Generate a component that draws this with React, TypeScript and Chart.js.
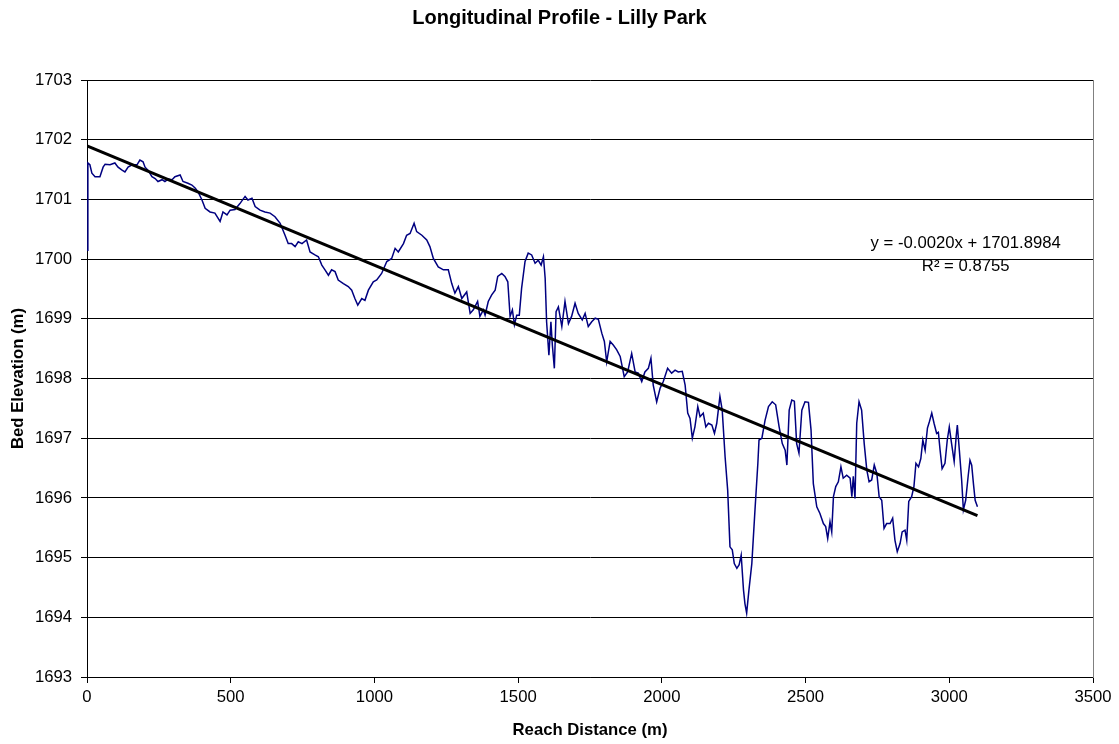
import React, { useEffect, useRef } from "react";
import { Chart, registerables } from "chart.js";

Chart.register(...registerables);

const FONT = '"Liberation Sans", Arial, Helvetica, sans-serif';

const chartTitle = "Longitudinal Profile - Lilly Park";
const xAxisTitle = "Reach Distance (m)";
const yAxisTitle = "Bed Elevation (m)";
const equationLines = ["y = -0.0020x + 1701.8984", "R\u00B2 = 0.8755"];

// Reach distance (m) of each surveyed bed point
const distance = [
  0, 3, 10, 17, 28, 45, 56, 63, 80, 97,
  108, 122, 132, 143, 157, 174, 184, 195, 202, 212,
  226, 237, 247, 261, 271, 282, 296, 306, 324, 334,
  351, 365, 376, 386, 400, 411, 428, 445, 463, 473,
  487, 498, 515, 532, 550, 560, 574, 585, 602, 619,
  637, 654, 672, 689, 700, 712, 724, 735, 748, 764,
  776, 793, 805, 817, 828, 840, 851, 863, 874, 892,
  909, 921, 932, 942, 956, 967, 979, 996, 1008, 1025,
  1043, 1060, 1072, 1083, 1101, 1112, 1124, 1138, 1147, 1165,
  1182, 1193, 1205, 1222, 1240, 1257, 1269, 1280, 1292, 1304,
  1321, 1333, 1344, 1359, 1367, 1379, 1385, 1396, 1408, 1420,
  1429, 1443, 1454, 1464, 1472, 1480, 1487, 1495, 1504, 1512,
  1524, 1535, 1547, 1559, 1570, 1580, 1588, 1594, 1599, 1607,
  1614, 1619, 1626, 1632, 1640, 1652, 1663, 1675, 1686, 1698,
  1709, 1723, 1733, 1744, 1756, 1768, 1779, 1791, 1800, 1808,
  1820, 1831, 1843, 1855, 1869, 1881, 1895, 1907, 1918, 1930,
  1941, 1953, 1962, 1970, 1982, 1994, 2005, 2020, 2034, 2046,
  2057, 2071, 2081, 2090, 2098, 2106, 2115, 2125, 2133, 2144,
  2153, 2162, 2174, 2183, 2191, 2202, 2210, 2220, 2229, 2237,
  2245, 2252, 2261, 2269, 2276, 2284, 2289, 2295, 2303, 2313,
  2324, 2334, 2338, 2348, 2359, 2371, 2384, 2396, 2408, 2419,
  2429, 2435, 2443, 2452, 2461, 2469, 2477, 2487, 2498, 2510,
  2519, 2527, 2539, 2550, 2562, 2570, 2577, 2585, 2591, 2597,
  2605, 2614, 2623, 2631, 2643, 2655, 2661, 2666, 2672, 2678,
  2686, 2695, 2704, 2713, 2721, 2730, 2739, 2748, 2756, 2765,
  2773, 2782, 2794, 2803, 2811, 2819, 2829, 2836, 2846, 2852,
  2859, 2869, 2877, 2884, 2893, 2901, 2908, 2916, 2924, 2931,
  2939, 2947, 2956, 2962, 2968, 2975, 2985, 2993, 3000, 3008,
  3017, 3024, 3028, 3035, 3043, 3049, 3057, 3066, 3072, 3078,
  3084, 3090, 3098,
];

// Bed elevation (m) at each distance
const elevation = [
  1700.15, 1701.61, 1701.58, 1701.44, 1701.38, 1701.38, 1701.54, 1701.59, 1701.58, 1701.61,
  1701.54, 1701.49, 1701.46, 1701.54, 1701.58, 1701.58, 1701.66, 1701.63, 1701.54, 1701.49,
  1701.38, 1701.35, 1701.30, 1701.33, 1701.30, 1701.34, 1701.33, 1701.38, 1701.41, 1701.30,
  1701.27, 1701.24, 1701.19, 1701.13, 1700.99, 1700.85, 1700.79, 1700.77, 1700.63, 1700.79,
  1700.74, 1700.82, 1700.83, 1700.93, 1701.05, 1700.99, 1701.02, 1700.88, 1700.82, 1700.79,
  1700.77, 1700.71, 1700.60, 1700.40, 1700.26, 1700.26, 1700.21, 1700.29, 1700.26, 1700.32,
  1700.12, 1700.07, 1700.04, 1699.90, 1699.82, 1699.73, 1699.82, 1699.79, 1699.65, 1699.59,
  1699.54, 1699.48, 1699.34, 1699.23, 1699.34, 1699.31, 1699.48, 1699.62, 1699.65, 1699.76,
  1699.96, 1700.01, 1700.18, 1700.12, 1700.26, 1700.40, 1700.43, 1700.60, 1700.46, 1700.40,
  1700.32, 1700.21, 1700.01, 1699.87, 1699.82, 1699.82, 1699.59, 1699.43, 1699.54, 1699.34,
  1699.45, 1699.09, 1699.15, 1699.29, 1699.04, 1699.15, 1699.06, 1699.29, 1699.40, 1699.48,
  1699.71, 1699.76, 1699.71, 1699.62, 1699.04, 1699.15, 1698.90, 1699.06, 1699.06, 1699.51,
  1699.96, 1700.10, 1700.07, 1699.93, 1699.98, 1699.90, 1700.04, 1699.68, 1698.95, 1698.39,
  1698.95, 1698.56, 1698.17, 1699.12, 1699.20, 1698.87, 1699.29, 1698.92, 1699.04, 1699.26,
  1699.09, 1698.98, 1699.09, 1698.87, 1698.95, 1699.01, 1698.99, 1698.76, 1698.62, 1698.28,
  1698.62, 1698.56, 1698.48, 1698.37, 1698.03, 1698.11, 1698.42, 1698.11, 1698.09, 1697.95,
  1698.11, 1698.17, 1698.34, 1697.89, 1697.61, 1697.84, 1697.95, 1698.17, 1698.09, 1698.14,
  1698.11, 1698.12, 1697.89, 1697.42, 1697.33, 1697.00, 1697.19, 1697.53, 1697.36, 1697.42,
  1697.19, 1697.25, 1697.22, 1697.08, 1697.25, 1697.70, 1697.47, 1696.69, 1696.13, 1695.18,
  1695.13, 1694.90, 1694.82, 1694.88, 1695.04, 1694.46, 1694.23, 1694.07, 1694.46, 1694.90,
  1695.80, 1696.58, 1696.97, 1697.00, 1697.30, 1697.53, 1697.61, 1697.56, 1697.19, 1696.91,
  1696.80, 1696.55, 1697.47, 1697.64, 1697.62, 1696.91, 1696.75, 1697.47, 1697.61, 1697.60,
  1697.14, 1696.24, 1695.85, 1695.74, 1695.57, 1695.52, 1695.32, 1695.60, 1695.43, 1696.02,
  1696.19, 1696.27, 1696.52, 1696.33, 1696.38, 1696.33, 1696.02, 1696.36, 1695.99, 1697.25,
  1697.61, 1697.47, 1696.91, 1696.47, 1696.27, 1696.30, 1696.55, 1696.41, 1696.02, 1695.96,
  1695.49, 1695.57, 1695.57, 1695.66, 1695.29, 1695.10, 1695.24, 1695.43, 1695.46, 1695.29,
  1695.94, 1696.02, 1696.19, 1696.58, 1696.52, 1696.66, 1696.97, 1696.80, 1697.17, 1697.28,
  1697.42, 1697.25, 1697.08, 1697.10, 1696.80, 1696.49, 1696.58, 1696.97, 1697.19, 1696.91,
  1696.61, 1697.03, 1697.22, 1696.80, 1696.30, 1695.80, 1695.96, 1696.38, 1696.63, 1696.55,
  1696.24, 1695.96, 1695.85,
];

// Linear trend line end points
const trendDistance = [0, 3098];
const trendElevation = [1701.8984, 1695.7024];

// Axis ranges / ticks
const xRange = [0, 3500];
const xStep = 500;
const yRange = [1693, 1703];
const yStep = 1;

// Where the trend equation label is anchored (data units)
const equationAnchorX = 3057;
const equationAnchorY = [1700.27, 1699.87];

export default function App() {
  const ref = useRef<HTMLCanvasElement | null>(null);

  useEffect(() => {
    if (!ref.current) return;
    const profile = distance.map((x, i) => ({ x, y: elevation[i] }));
    const trend = trendDistance.map((x, i) => ({ x, y: trendElevation[i] }));

    const decorations = {
      id: "decorations",
      beforeDatasetsDraw(chart: any) {
        const { ctx, chartArea } = chart;
        ctx.save();
        ctx.strokeStyle = "#808080";
        ctx.lineWidth = 1;
        ctx.beginPath();
        const x = Math.round(chartArea.right) + 0.5;
        ctx.moveTo(x, chartArea.top);
        ctx.lineTo(x, chartArea.bottom + 1);
        ctx.stroke();
        ctx.restore();
      },
      afterDraw(chart: any) {
        const { ctx } = chart;
        const xs = chart.scales.x;
        const ys = chart.scales.y;
        ctx.save();
        ctx.fillStyle = "#000";
        ctx.textAlign = "center";
        ctx.textBaseline = "middle";
        ctx.font = `bold 20px ${FONT}`;
        ctx.fillText(chartTitle, chart.width / 2, 18);
        ctx.font = `16.7px ${FONT}`;
        const ex = xs.getPixelForValue(equationAnchorX);
        equationLines.forEach((t, i) => {
          ctx.fillText(t, ex, ys.getPixelForValue(equationAnchorY[i]));
        });
        ctx.restore();
      },
    };

    const chart = new Chart(ref.current, {
      type: "line",
      data: {
        datasets: [
          {
            label: "Linear trend",
            data: trend,
            borderColor: "#000000",
            borderWidth: 3,
            pointRadius: 0,
            fill: false,
          },
          {
            label: "Bed profile",
            data: profile,
            borderColor: "#000080",
            borderWidth: 1.5,
            pointRadius: 0,
            tension: 0,
            fill: false,
          },
        ],
      },
      options: {
        animation: false,
        responsive: false,
        maintainAspectRatio: false,
        layout: { padding: { left: 0, right: 26, top: 80, bottom: 0 } },
        plugins: {
          legend: { display: false },
          tooltip: { enabled: false },
          title: { display: false },
        },
        scales: {
          x: {
            type: "linear",
            position: "bottom",
            min: xRange[0],
            max: xRange[1],
            afterFit: (s: any) => {
              s.height = 67;
            },
            ticks: {
              stepSize: xStep,
              callback: (v: any) => String(v),
              color: "#000",
              font: { family: FONT, size: 16.7 },
              padding: 4,
              maxRotation: 0,
              autoSkip: false,
            },
            grid: {
              drawOnChartArea: false,
              drawTicks: true,
              tickLength: 6,
              color: "#000",
            },
            border: { display: true, color: "#000", width: 1 },
            title: {
              display: true,
              text: xAxisTitle,
              color: "#000",
              font: { family: FONT, size: 16.7, weight: "bold" },
              padding: { top: 0, bottom: 4 },
            },
          },
          y: {
            type: "linear",
            min: yRange[0],
            max: yRange[1],
            afterFit: (s: any) => {
              s.width = 87;
            },
            ticks: {
              stepSize: yStep,
              callback: (v: any) => String(v),
              color: "#000",
              font: { family: FONT, size: 16.7 },
              padding: 9,
            },
            grid: {
              drawTicks: true,
              tickLength: 6,
              color: "#000",
            },
            border: { display: true, color: "#000", width: 1 },
            title: {
              display: true,
              text: yAxisTitle,
              color: "#000",
              font: { family: FONT, size: 16.7, weight: "bold" },
              padding: { top: 8, bottom: 0 },
            },
          },
        },
      } as any,
      plugins: [decorations],
    });
    return () => chart.destroy();
  }, []);

  return (
    <div
      style={{
        position: "fixed",
        left: 0,
        top: 0,
        width: 1119,
        height: 744,
        background: "#ffffff",
      }}
    >
      <canvas ref={ref} width={1119} height={744} style={{ display: "block" }} />
    </div>
  );
}
